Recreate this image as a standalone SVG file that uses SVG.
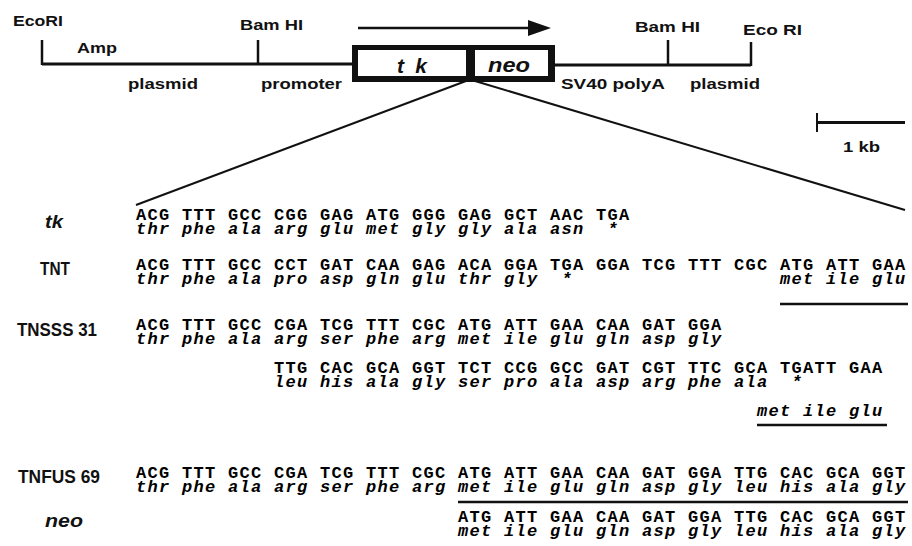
<svg xmlns="http://www.w3.org/2000/svg" width="912" height="546" viewBox="0 0 912 546">
<style>
.lab{font-family:"Liberation Sans",Arial,sans-serif;font-weight:bold;font-size:15px;fill:#111}
.box{font-family:"Liberation Sans",Arial,sans-serif;font-weight:bold;font-style:italic;font-size:21px;fill:#111}
.nm{font-family:"Liberation Sans",Arial,sans-serif;font-weight:bold;font-size:18px;fill:#111}
.nmi{font-family:"Liberation Sans",Arial,sans-serif;font-size:18px;font-weight:bold;font-style:italic;fill:#111}
.dna{font-family:"Liberation Mono","Courier New",monospace;font-weight:bold;font-size:17px;letter-spacing:1.3px;fill:#000}
.aa{font-family:"Liberation Mono","Courier New",monospace;font-weight:bold;font-style:italic;font-size:17px;letter-spacing:1.3px;fill:#000}
.ln{stroke:#111;fill:none}
</style>
<rect width="912" height="546" fill="#fff"/>
<g id="map">
<g class="ln">
<line x1="42" y1="64" x2="352" y2="64" stroke-width="3"/>
<line x1="555" y1="65" x2="751" y2="65" stroke-width="3"/>
<line x1="42" y1="40" x2="42" y2="65" stroke-width="2.5"/>
<line x1="258" y1="40" x2="258" y2="65" stroke-width="2.5"/>
<line x1="668" y1="40" x2="668" y2="66" stroke-width="2.5"/>
<line x1="751" y1="42" x2="751" y2="66" stroke-width="2.5"/>
<line x1="358" y1="28" x2="530" y2="28" stroke-width="2.5"/>
</g>
<polygon points="528,20 551,28 528,36" fill="#111"/>
<g id="box">
<rect x="352" y="45" width="203" height="37" fill="#111"/>
<rect x="358" y="50" width="108" height="26" fill="#fff"/>
<rect x="475" y="50" width="73" height="26" fill="#fff"/>
<text class="box" x="397" y="73" textLength="30" lengthAdjust="spacing">t k</text>
<text class="box" x="488" y="72" textLength="42" lengthAdjust="spacingAndGlyphs">neo</text>
</g>
<text class="lab" x="13" y="26" textLength="50" lengthAdjust="spacingAndGlyphs">EcoRI</text>
<text class="lab" x="77" y="53" textLength="40" lengthAdjust="spacingAndGlyphs">Amp</text>
<text class="lab" x="240" y="30" textLength="63" lengthAdjust="spacingAndGlyphs">Bam HI</text>
<text class="lab" x="128" y="89" textLength="70" lengthAdjust="spacingAndGlyphs">plasmid</text>
<text class="lab" x="261" y="89" textLength="81" lengthAdjust="spacingAndGlyphs">promoter</text>
<text class="lab" x="561" y="89" textLength="104" lengthAdjust="spacingAndGlyphs">SV40 polyA</text>
<text class="lab" x="690" y="89" textLength="70" lengthAdjust="spacingAndGlyphs">plasmid</text>
<text class="lab" x="635" y="32" textLength="65" lengthAdjust="spacingAndGlyphs">Bam HI</text>
<text class="lab" x="743" y="35" textLength="59" lengthAdjust="spacingAndGlyphs">Eco RI</text>
</g>
<g id="scale">
<line class="ln" x1="817" y1="113" x2="817" y2="132" stroke-width="2"/>
<line class="ln" x1="817" y1="122.5" x2="905" y2="122.5" stroke-width="3"/>
<text class="lab" x="843" y="152" textLength="37" lengthAdjust="spacingAndGlyphs">1 kb</text>
</g>
<g id="connectors" class="ln" stroke-width="2">
<line x1="466" y1="81" x2="136" y2="205"/>
<line x1="475" y1="81" x2="905" y2="210"/>
</g>
<g id="row-tk">
<text class="nmi" x="45" y="228" textLength="18" lengthAdjust="spacingAndGlyphs">tk</text>
<text class="dna" x="136" y="220">ACG TTT GCC CGG GAG ATG GGG GAG GCT AAC TGA</text>
<text class="aa" x="136" y="234" xml:space="preserve">thr phe ala arg glu met gly gly ala asn  *</text>
</g>
<g id="row-TNT">
<text class="nm" x="40" y="275" textLength="30" lengthAdjust="spacingAndGlyphs">TNT</text>
<text class="dna" x="136" y="270">ACG TTT GCC CCT GAT CAA GAG ACA GGA TGA GGA TCG TTT CGC ATG ATT GAA</text>
<text class="aa" x="136" y="284" xml:space="preserve">thr phe ala pro asp gln glu thr gly  *</text>
<text class="aa" x="780" y="284">met ile glu</text>
<line class="ln" x1="780" y1="304" x2="908" y2="304" stroke-width="2.5"/>
</g>
<g id="row-TNSSS31">
<text class="nm" x="17" y="336" textLength="80" lengthAdjust="spacingAndGlyphs">TNSSS 31</text>
<text class="dna" x="136" y="330">ACG TTT GCC CGA TCG TTT CGC ATG ATT GAA CAA GAT GGA</text>
<text class="aa" x="136" y="344">thr phe ala arg ser phe arg met ile glu gln asp gly</text>
<text class="dna" x="274" y="373">TTG CAC GCA GGT TCT CCG GCC GAT CGT TTC GCA TGATT GAA</text>
<text class="aa" x="274" y="387" xml:space="preserve">leu his ala gly ser pro ala asp arg phe ala  *</text>
<text class="aa" x="757" y="416">met ile glu</text>
<line class="ln" x1="757" y1="425" x2="887" y2="425" stroke-width="2.5"/>
</g>
<g id="row-TNFUS69">
<text class="nm" x="18" y="483" textLength="82" lengthAdjust="spacingAndGlyphs">TNFUS 69</text>
<text class="dna" x="136" y="478">ACG TTT GCC CGA TCG TTT CGC ATG ATT GAA CAA GAT GGA TTG CAC GCA GGT</text>
<text class="aa" x="136" y="492">thr phe ala arg ser phe arg met ile glu gln asp gly leu his ala gly</text>
<line class="ln" x1="458" y1="502" x2="908" y2="502" stroke-width="2.5"/>
</g>
<g id="row-neo">
<text class="nmi" x="45" y="527" textLength="38" lengthAdjust="spacingAndGlyphs">neo</text>
<text class="dna" x="458" y="522">ATG ATT GAA CAA GAT GGA TTG CAC GCA GGT</text>
<text class="aa" x="458" y="536">met ile glu gln asp gly leu his ala gly</text>
</g>
</svg>
